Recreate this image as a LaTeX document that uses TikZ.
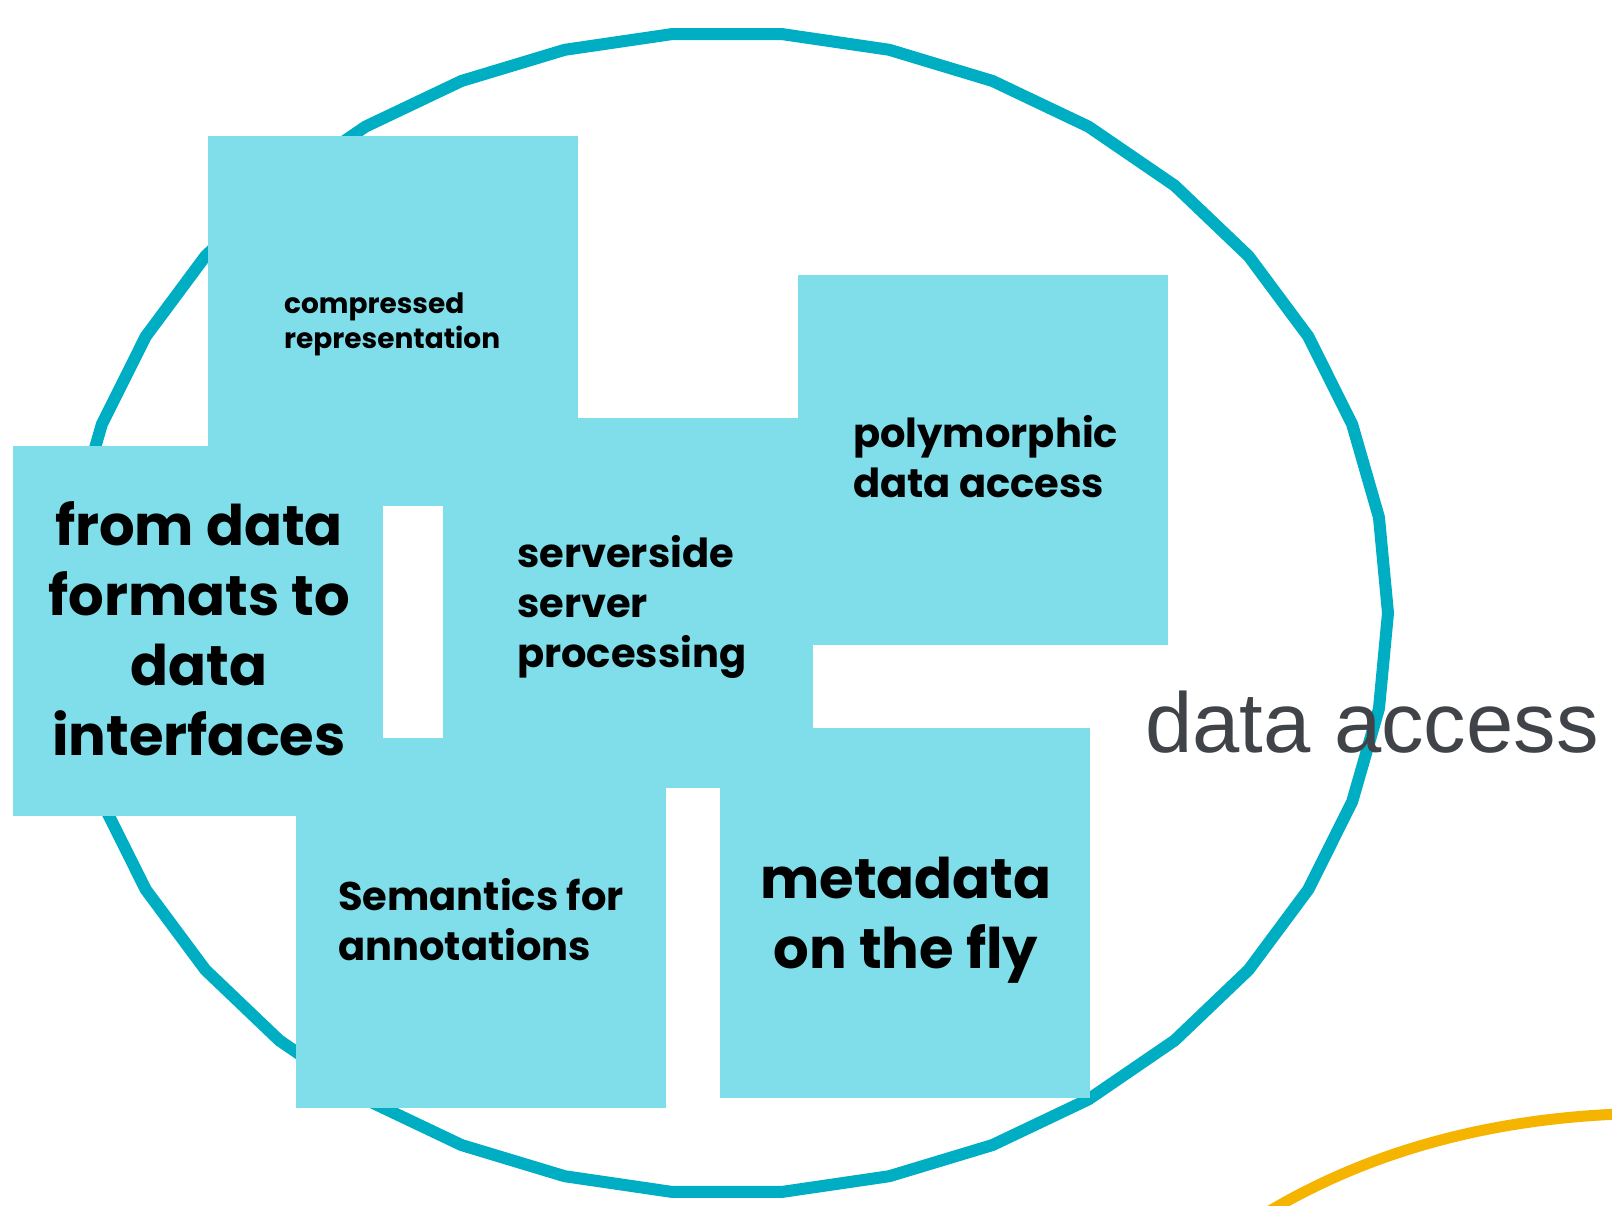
\documentclass[tikz,border=0pt]{standalone}
\usepackage{fontspec}
\usetikzlibrary{calc}
\newfontfamily\tilefont{Poppins}
\newfontfamily\labelfont{Liberation Sans}
\definecolor{tilecyan}{RGB}{128,222,234}
\definecolor{ringcyan}{RGB}{0,174,196}
\definecolor{ringorange}{RGB}{244,180,0}
\definecolor{labelgrey}{RGB}{64,68,72}
\tikzset{
	tilebox/.style={fill=tilecyan, draw=none, minimum size=370, inner sep=0, anchor=north west},
	bigtext/.style={font=\tilefont\bfseries\fontsize{56}{70}\selectfont, align=center, inner sep=0, anchor=base},
	midtext/.style={font=\tilefont\bfseries\fontsize{40}{50}\selectfont, align=left, inner sep=0, anchor=base west},
	smalltext/.style={font=\tilefont\bfseries\fontsize{28}{35}\selectfont, align=left, inner sep=0, anchor=base west}
}
\newcommand{\tile}[3] % name, left x in px, top y in px
{
	\node[tilebox] (#1) at (#2,#3) {};
}

\begin{document}
\begin{tikzpicture}[x=1pt, y=-1pt]
	% page of 1612 x 1205 px, 1px = 1pt
	\clip (0,0) rectangle (1612,1205);
	
	% ring of 38 sides
	\draw[ringcyan, line width=12, line join=round]
		plot[samples=39, domain=0:360] ({727+661*cos(\x)}, {613+581*sin(\x)}) -- cycle;
	% second ring, cut by the page
	\draw[ringorange, line width=11]
		(1268,1212) .. controls (1355,1160) and (1470,1120) .. (1620,1114);
	
	% tiles
	\tile{comp}{208}{136};
	\tile{form}{13}{446};
	\tile{serv}{443}{418};
	\tile{poly}{798}{275};
	\tile{sem}{296}{738};
	\tile{meta}{720}{728};
	
	% tile texts (anchored at the baseline of the last line)
	\node[smalltext] (comptext) at (284,348) {compressed\\representation};
	\node[bigtext] (formtext) at (199,755) {from data\\formats to\\data\\interfaces};
	\node[midtext] (servtext) at (517,667) {serverside\\server\\processing};
	\node[midtext] (polytext) at (853,497) {polymorphic\\data access};
	\node[midtext] (semtext) at (338,960) {Semantics for\\annotations};
	\node[bigtext] (metatext) at (906,968) {metadata\\on the fly};
	
	\node[font=\labelfont\fontsize{85}{100}\selectfont, text=labelgrey, inner sep=0, anchor=base west] (ringlabel) at (1145,752) {data access};
\end{tikzpicture}
\end{document}
